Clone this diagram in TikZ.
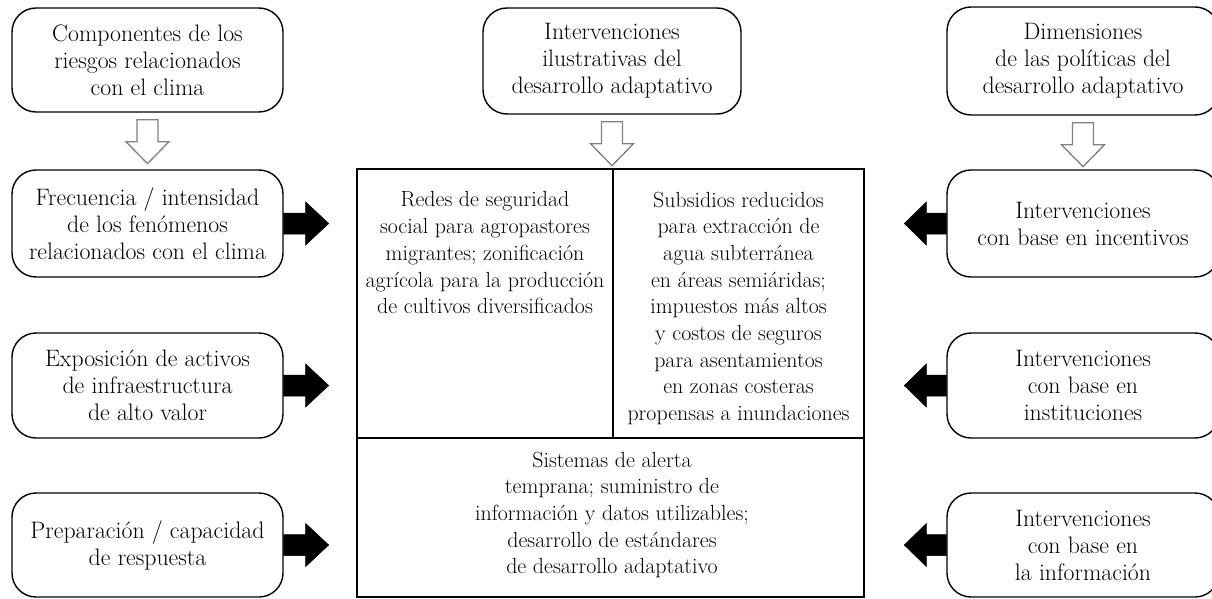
\documentclass[tikz,border=0pt]{standalone}
\usepackage{fontspec}
\usetikzlibrary{calc}
\tikzset{
  sidebox/.style={draw, line width=1.4pt, rounded corners=24pt, minimum width=271pt,
    align=center, inner sep=0pt, font=\fontsize{23.8}{27}\selectfont},
  celltext/.style={align=center, inner sep=0pt, font=\fontsize{21.9}{26.7}\selectfont},
  hollowarrow/.style={draw=black!50, line width=1.3pt, fill=white, line join=miter},
  blackarrow/.style={draw=black, fill=black, line width=0.5pt},
  gridline/.style={line width=1.8pt}
}
\begin{document}
\begin{tikzpicture}[x=1pt,y=-1pt]
\useasboundingbox (0,0) rectangle (1212,599);
% left column
\node[sidebox, minimum height=104pt] (l1) at (147.5,60) {Componentes de los\\riesgos relacionados\\con el clima};
\node[sidebox, minimum height=107pt] (l2) at (147.5,223.5) {Frecuencia / intensidad\\de los fenómenos\\relacionados con el clima};
\node[sidebox, minimum height=105pt] (l3) at (147.5,385.5) {Exposición de activos\\de infraestructura\\de alto valor};
\node[sidebox, minimum height=104pt] (l4) at (147.5,545) {Preparación / capacidad\\de respuesta};
% middle top
\node[sidebox, minimum width=258pt, minimum height=106pt] (m1) at (612,61) {Intervenciones\\ilustrativas del\\desarrollo adaptativo};
% right column
\node[sidebox, minimum width=272pt, minimum height=108pt] (r1) at (1083,61) {Dimensiones\\de las políticas del\\desarrollo adaptativo};
\node[sidebox, minimum width=272pt, minimum height=107pt] (r2) at (1083,223.5) {Intervenciones\\con base en incentivos};
\node[sidebox, minimum width=272pt, minimum height=105pt] (r3) at (1083,385.5) {Intervenciones\\con base en\\instituciones};
\node[sidebox, minimum width=272pt, minimum height=104pt] (r4) at (1083,545) {Intervenciones\\con base en\\la información};
% main box
\node[draw, line width=1.8pt, minimum width=507pt, minimum height=428pt, inner sep=0pt] (main) at (610.5,383) {};
\coordinate (hd) at (613,438);
\draw[gridline] (main.west |- hd) -- (main.east |- hd);
\draw[gridline] (hd |- main.north) -- (hd);
\node[celltext, anchor=north] (ca) at (485,191.5) {Redes de seguridad\\social para agropastores\\migrantes; zonificación\\agrícola para la producción\\de cultivos diversificados};
\node[celltext, anchor=north] (cb) at (738.5,191.5) {Subsidios reducidos\\para extracción de\\agua subterránea\\en áreas semiáridas;\\impuestos más altos\\y costos de seguros\\para asentamientos\\en zonas costeras\\propensas a inundaciones};
\node[celltext] (cc) at (612,515) {Sistemas de alerta\\temprana; suministro de\\información y datos utilizables;\\desarrollo de estándares\\de desarrollo adaptativo};
% hollow arrows
\foreach \n in {l1,m1,r1}{
  \draw[hollowarrow] ($(\n.south)+(-10.5,7)$) -- ++(0,22) -- ++(-11,0) -- ++(21.5,22) -- ++(21.5,-22) -- ++(-11,0) -- ++(0,-22) -- cycle;
}
% black arrows, left
\foreach \n in {l2,l3,l4}{
  \draw[blackarrow] ($(\n.east)+(0,-10.5)$) -- ++(22,0) -- ++(0,-11) -- ++(23,21.5) -- ++(-23,21.5) -- ++(0,-11) -- ++(-22,0) -- cycle;
}
% black arrows, right
\foreach \n in {r2,r3,r4}{
  \draw[blackarrow] ($(\n.west)+(0,-10.5)$) -- ++(-20,0) -- ++(0,-11) -- ++(-22,21.5) -- ++(22,21.5) -- ++(0,-11) -- ++(20,0) -- cycle;
}
\end{tikzpicture}
\end{document}
